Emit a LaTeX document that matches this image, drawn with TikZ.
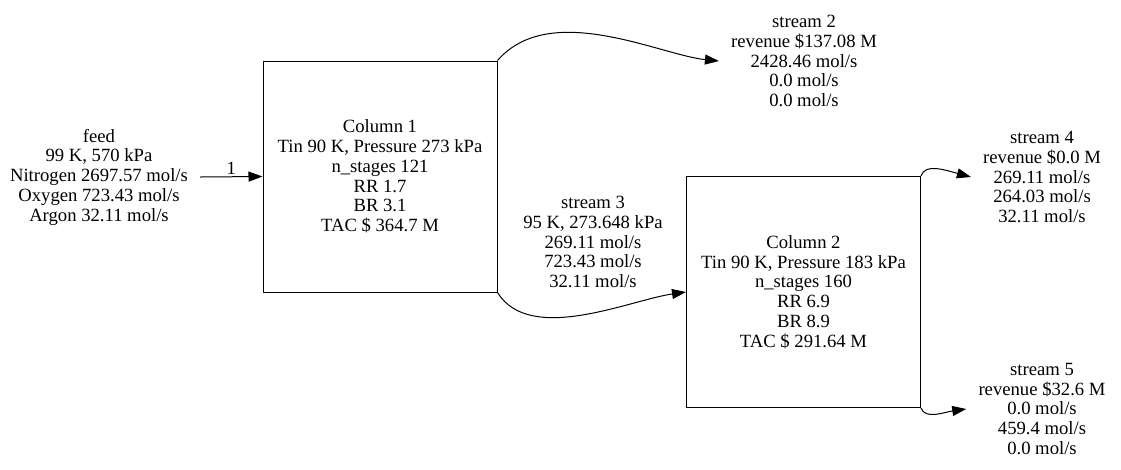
\documentclass[tikz,border=0pt]{standalone}
\usepackage{fontspec}
\setmainfont{Liberation Serif}
\usetikzlibrary{arrows.meta,positioning}
\tikzset{
  column/.style={draw, line width=0.75pt, minimum width=175.5pt, minimum height=173.25pt, align=center, inner sep=0pt},
  stream/.style={align=center, inner xsep=9pt, inner ysep=2pt},
  flow/.style={-{Triangle[length=10.5pt,width=7.5pt]}, line width=0.75pt},
}
\begin{document}
\begin{tikzpicture}[x=0.75pt,y=-0.75pt,font=\fontsize{14pt}{14.8pt}\selectfont]
	\useasboundingbox (0,0) rectangle (1121,469);
	% columns
	\node[column] (col1) at (380,176.5) {Column 1\\Tin 90 K, Pressure 273 kPa\\n\_stages 121\\RR 1.7\\BR 3.1\\TAC \$ 364.7 M};
	\node[column] (col2) at (803.5,292) {Column 2\\Tin 90 K, Pressure 183 kPa\\n\_stages 160\\RR 6.9\\BR 8.9\\TAC \$ 291.64 M};
	% streams
	\node[stream] (feed) at (99,177) {feed\\99 K, 570 kPa\\Nitrogen 2697.57 mol/s\\Oxygen 723.43 mol/s\\Argon 32.11 mol/s};
	\node[stream] (s2) at (804,61) {stream 2\\revenue \$137.08 M\\2428.46 mol/s\\0.0 mol/s\\0.0 mol/s};
	\node[stream] (s3) at (593,242) {stream 3\\95 K, 273.648 kPa\\269.11 mol/s\\723.43 mol/s\\32.11 mol/s};
	\node[stream] (s4) at (1042,177) {stream 4\\revenue \$0.0 M\\269.11 mol/s\\264.03 mol/s\\32.11 mol/s};
	\node[stream] (s5) at (1042,409) {stream 5\\revenue \$32.6 M\\0.0 mol/s\\459.4 mol/s\\0.0 mol/s};
	% connections
	\draw[flow] (feed.east) -- node[above, inner sep=1pt] {1} (col1.west);
	\draw[flow] (col1.north east) .. controls (550,0) and (660,55) .. (s2.west);
	\draw[flow] (col1.south east) .. controls (530,345) and (630,300) .. (col2.west);
	\draw[flow] (col2.north east) .. controls (925,163) and (945,170) .. (s4.west);
	\draw[flow] (col2.south east) .. controls (925,420) and (945,412) .. (s5.west);
\end{tikzpicture}
\end{document}
